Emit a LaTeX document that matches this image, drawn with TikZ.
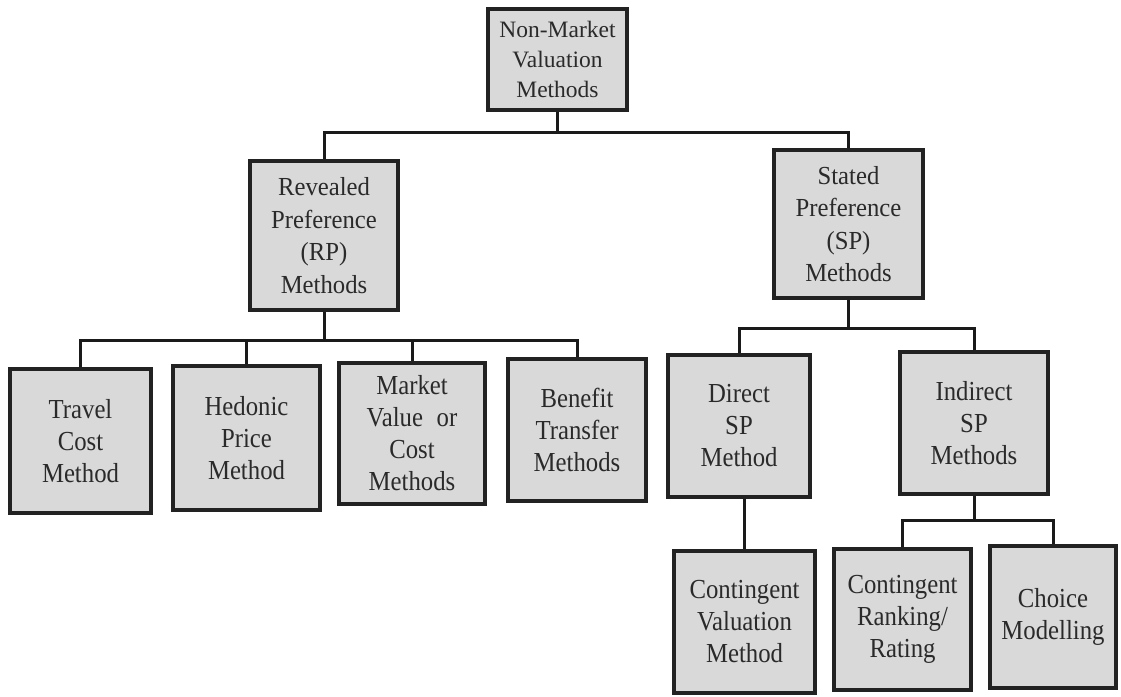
\documentclass[tikz,border=0pt]{standalone}
\usepackage{fontspec}
\setmainfont{Liberation Serif}
\newfontfamily\boxfont[FakeStretch=0.9]{Liberation Serif}
\newfontfamily\midfont[FakeStretch=0.95]{Liberation Serif}
\newfontfamily\topfont{Liberation Serif}
\definecolor{boxfill}{HTML}{D9D9D9}
\definecolor{boxline}{HTML}{222222}
\definecolor{txt}{HTML}{2A2A2A}
\definecolor{linkcol}{HTML}{1A1A1A}
\tikzset{
  box/.style={draw=boxline, line width=4.8pt, fill=boxfill, inner sep=0pt,
    align=center, text=txt, font=\boxfont\fontsize{27.5}{32}\selectfont},
  midbox/.style={box, font=\midfont\fontsize{26}{32.5}\selectfont},
  topbox/.style={box, font=\topfont\fontsize{23.5}{30}\selectfont},
  link/.style={draw=linkcol, line width=3pt, line join=miter},
}
\begin{document}
\begin{tikzpicture}[x=1pt, y=-1pt]
\useasboundingbox (0,0) rectangle (1121,696);
\fill[white] (0,0) rectangle (1121,696);
% nodes
\node[topbox, minimum width=139pt, minimum height=101pt] (top) at (557.5,59.5) {Non-Market\\Valuation\\Methods};
\node[midbox, minimum width=148pt, minimum height=149pt] (RP) at (324,235.5) {Revealed\\Preference\\(RP)\\Methods};
\node[midbox, minimum width=149pt, minimum height=148pt] (SP) at (848.5,224) {Stated\\Preference\\(SP)\\Methods};
\node[box, minimum width=141pt, minimum height=144pt] (TC) at (80.5,441) {Travel\\Cost\\Method};
\node[box, minimum width=147pt, minimum height=144pt] (HP) at (246.5,438) {Hedonic\\Price\\Method};
\node[box, minimum width=146pt, minimum height=141pt] (MV) at (412,433.5) {Market\\Value\enspace or\\Cost\\Methods};
\node[box, minimum width=138pt, minimum height=142pt] (BT) at (577,430) {Benefit\\Transfer\\Methods};
\node[box, minimum width=142pt, minimum height=142pt] (DSP) at (739,426) {Direct\\SP\\Method};
\node[box, minimum width=148pt, minimum height=142pt] (ISP) at (974,423) {Indirect\\SP\\Methods};
\node[box, minimum width=141pt, minimum height=142pt] (CV) at (744.5,622) {Contingent\\Valuation\\Method};
\node[box, minimum width=137pt, minimum height=141pt] (CR) at (902.5,619.5) {Contingent\\Ranking/\\Rating};
\node[box, minimum width=126pt, minimum height=142pt] (CM) at (1053,617) {Choice\\Modelling};
% bus levels
\coordinate (b1) at (0,132);
\coordinate (b2) at (0,340);
\coordinate (b3) at (0,328);
\coordinate (b4) at (0,520);
% connectors
\draw[link] (top.south) -- (top.south |- b1);
\draw[link] (RP.north) |- (SP.north |- b1) -- (SP.north);
\draw[link] (RP.south) -- (RP.south |- b2);
\draw[link] (TC.north) |- (BT.north |- b2) -- (BT.north);
\draw[link] (HP.north) -- (HP.north |- b2);
\draw[link] (MV.north) -- (MV.north |- b2);
\draw[link] (SP.south) -- (SP.south |- b3);
\draw[link] (DSP.north) |- (ISP.north |- b3) -- (ISP.north);
\draw[link] (CV.north) -- (CV.north |- DSP.south);
\draw[link] (ISP.south) -- (ISP.south |- b4);
\draw[link] (CR.north) |- (CM.north |- b4) -- (CM.north);
\end{tikzpicture}
\end{document}
